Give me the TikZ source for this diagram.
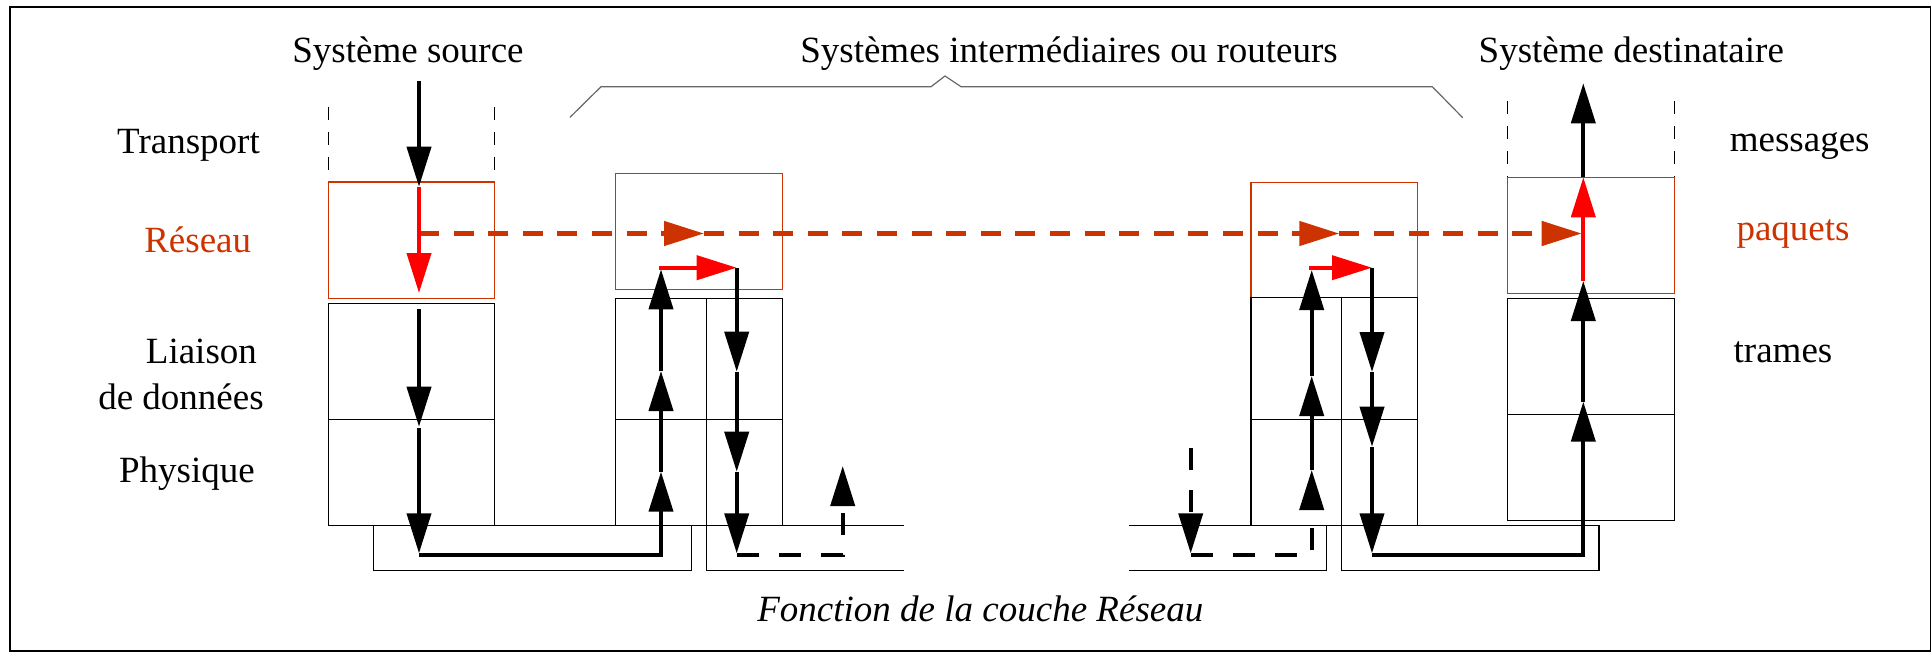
\documentclass[tikz,border=0pt]{standalone}
\usepackage{fontspec}
\setmainfont{Liberation Serif}
\usetikzlibrary{arrows.meta}
\definecolor{rouge}{RGB}{204,51,0}
\definecolor{vif}{RGB}{255,0,0}
\tikzset{
  thinbox/.style={draw=black, line width=0.7pt},
  redbox/.style={draw=rouge, line width=0.7pt},
  tline/.style={draw=black, line width=0.7pt, dash pattern=on 6.5pt off 6pt},
  bracket/.style={draw=black!60, line width=0.6pt},
  tipb/.style={-{Triangle[length=20pt,width=12pt]}},
  blk/.style={draw=black, line width=2pt, tipb},
  redarr/.style={draw=vif, line width=2pt, tipb},
  redash/.style={draw=rouge, line width=2.3pt, dash pattern=on 10pt off 7.3pt, tipb},
  blkdash/.style={draw=black, line width=2pt, dash pattern=on 11pt off 10pt, tipb},
  lbl/.style={font=\fontsize{18.5}{22}\selectfont, inner sep=0pt, anchor=base},
  redlbl/.style={lbl, text=rouge},
}
\begin{document}
\begin{tikzpicture}[x=0.5pt,y=-0.5pt]
\useasboundingbox (0,0) rectangle (1932,654);
% outer frame
\draw[line width=0.7pt] (10,7) rectangle (1930.5,651);

% titles
\node[lbl] (tsrc) at (408,62.7) {Système source};
\node[lbl] (tint) at (1069,62.7) {Systèmes intermédiaires ou routeurs};
\node[lbl] (tdst) at (1631.3,62.7) {Système destinataire};
\draw[bracket] (570,117.3) -- (601,86.7) -- (931,86.7) -- (945,76) -- (961,86.7) -- (1432.3,86.7) -- (1462.7,117.7);

% left labels
\node[lbl] (ltr) at (188.5,153) {Transport};
\node[redlbl] (lre) at (197.7,252) {Réseau};
\node[lbl] (lli) at (201.4,363) {Liaison};
\node[lbl] (ldo) at (181,409) {de données};
\node[lbl] (lph) at (187,482) {Physique};
% right labels
\node[lbl] (rme) at (1799.7,151.7) {messages};
\node[redlbl] (rpa) at (1793,240.7) {paquets};
\node[lbl] (rtr) at (1783,362) {trames};
% caption
\node[lbl, font=\fontsize{18.5}{22}\selectfont\itshape] (cap) at (980.3,621.7) {Fonction de la couche Réseau};

% ---- source system
\draw[tline] (328.3,106.7) -- (328.3,182);
\draw[tline] (494.7,106.7) -- (494.7,182);
\draw[redbox] (328.3,182) rectangle (494.7,298.3);
\draw[thinbox] (328.3,303.3) rectangle (494.7,525.3);
\draw[thinbox] (328.3,419.3) -- (494.7,419.3);
\draw[thinbox] (373.3,525.3) rectangle (691.7,570.7);

% ---- router 1
\draw[redbox] (615.7,173.3) rectangle (782.3,289.3);
\draw[thinbox] (615.7,298.3) rectangle (782.3,525.3);
\draw[thinbox] (706.3,298.3) -- (706.3,525.3);
\draw[thinbox] (615.7,419.3) -- (782.3,419.3);
\draw[thinbox] (904,525.3) -- (706.3,525.3) -- (706.3,570.7) -- (904,570.7);

% ---- router 2
\draw[redbox] (1251,182.3) rectangle (1417.3,297.7);
\draw[thinbox] (1251,297.7) rectangle (1417.3,525.3);
\draw[thinbox] (1341.5,297.7) -- (1341.5,525.3);
\draw[thinbox] (1251,419.3) -- (1417.3,419.3);
\draw[thinbox] (1129.3,525.3) -- (1326.7,525.3) -- (1326.7,570.7) -- (1129.3,570.7);
\draw[thinbox] (1341.3,525.3) rectangle (1599,570.7);

% ---- destination system
\draw[tline] (1507.7,101) -- (1507.7,177.3);
\draw[tline] (1674.3,101) -- (1674.3,177.3);
\draw[redbox] (1507.7,177.3) rectangle (1674.3,293.3);
\draw[thinbox] (1507.7,298.3) rectangle (1674.3,520.3);
\draw[thinbox] (1507.7,414.3) -- (1674.3,414.3);

% ---- coordinates of the flow
\coordinate (s0) at (419,80.7);
\coordinate (s1) at (419,186.7);
\coordinate (s2) at (419,293);
\coordinate (s3) at (419,309);
\coordinate (s4) at (419,426.7);
\coordinate (s5) at (419,428);
\coordinate (s6) at (419,553.3);
\coordinate (s7) at (419,555);
\coordinate (a0) at (661,555);
\coordinate (a1) at (661,471.7);
\coordinate (a2) at (661,371);
\coordinate (a3) at (661,269.3);
\coordinate (a4) at (659.3,267.7);
\coordinate (a5) at (736.7,267.7);
\coordinate (b1) at (736.7,371.7);
\coordinate (b2) at (736.7,471.7);
\coordinate (b3) at (736.7,553.3);
\coordinate (b4) at (736.7,555);
\coordinate (c0) at (842.7,555);
\coordinate (c1) at (842.7,466);
\coordinate (d0) at (1190.7,448.3);
\coordinate (d1) at (1190.7,553.3);
\coordinate (d2) at (1190.7,555);
\coordinate (e0) at (1311.7,555);
\coordinate (e1) at (1311.7,470);
\coordinate (e2) at (1311.7,376);
\coordinate (e3) at (1311.7,270);
\coordinate (e4) at (1309.3,267.7);
\coordinate (e5) at (1372,267.7);
\coordinate (f1) at (1372,372);
\coordinate (f2) at (1372,446.7);
\coordinate (f3) at (1372,553.3);
\coordinate (f4) at (1372,555);
\coordinate (g0) at (1583.3,555);
\coordinate (g1) at (1583.3,401.7);
\coordinate (g2) at (1583.3,281);
\coordinate (g3) at (1583.3,177.3);
\coordinate (g4) at (1583.3,83.3);
\coordinate (r0) at (419,233.5);
\coordinate (r1) at (704,233.5);
\coordinate (r2) at (1339.3,233.5);
\coordinate (r3) at (1581.7,233.5);

% red dashed network-level flow
\draw[redash] (r0) -- (r1);
\draw[redash] (r1) -- (r2);
\draw[redash] (r2) -- (r3);

% source: down
\draw[blk] (s0) -- (s1);
\draw[redarr] (s1) -- (s2);
\draw[blk] (s3) -- (s4);
\draw[blk] (s5) -- (s6);
\draw[blk] (s7) -- (a0) -- (a1);
% router 1
\draw[blk] (a1) -- (a2);
\draw[blk] (a2) -- (a3);
\draw[redarr] (a4) -- (a5);
\draw[blk] (a5) -- (b1);
\draw[blk] (b1) -- (b2);
\draw[blk] (b2) -- (b3);
\draw[blkdash] (b4) -- (c0) -- (c1);
% router 2
\draw[blkdash] (d0) -- (d1);
\draw[blkdash] (d2) -- (e0) -- (e1);
\draw[blk] (e1) -- (e2);
\draw[blk] (e2) -- (e3);
\draw[redarr] (e4) -- (e5);
\draw[blk] (e5) -- (f1);
\draw[blk] (f1) -- (f2);
\draw[blk] (f2) -- (f3);
\draw[blk] (f4) -- (g0) -- (g1);
% destination: up
\draw[blk] (g1) -- (g2);
\draw[redarr] (g2) -- (g3);
\draw[blk] (g3) -- (g4);
\end{tikzpicture}
\end{document}
